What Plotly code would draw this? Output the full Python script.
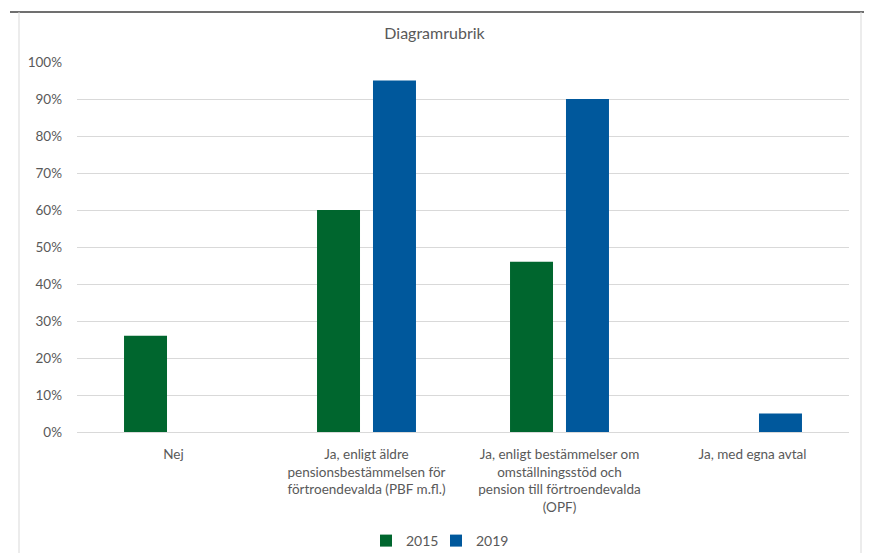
import plotly.graph_objects as go

categories = [
    "Nej",
    "Ja, enligt äldre<br>pensionsbestämmelsen för<br>förtroendevalda (PBF m.fl.)",
    "Ja, enligt bestämmelser om<br>omställningsstöd och<br>pension till förtroendevalda<br>(OPF)",
    "Ja, med egna avtal",
]
values_2015 = [0.26, 0.60, 0.46, None]
values_2019 = [None, 0.95, 0.90, 0.05]
series_names = ["2015", "2019"]
colors = ["#00662E", "#00589C"]
y_ticks = [0, 0.1, 0.2, 0.3, 0.4, 0.5, 0.6, 0.7, 0.8, 0.9, 1.0]

W, H = 869, 553
L, R, T, B = 77, 849, 62, 432

def px(x):
    return (x - L) / (R - L)

def py(y):
    return (B - y) / (B - T)

font_family = "Lato, 'Open Sans', sans-serif"
gray = "#595959"

fig = go.Figure()
legend_ids = ["legend", "legend2"]
legend_x = [366, 436]
for name, vals, col, lid in zip(series_names, [values_2015, values_2019], colors, legend_ids):
    fig.add_trace(go.Bar(x=categories, y=vals, name=name, marker_color=col,
                         marker_line_width=0, legend=lid))

legend_common = dict(orientation="h", xanchor="left", y=py(541), yanchor="middle",
                     font=dict(size=14, color=gray), itemwidth=30,
                     bgcolor="rgba(0,0,0,0)")

fig.update_layout(
    width=W, height=H,
    margin=dict(l=L, r=W - R, t=T, b=H - B, pad=0, autoexpand=False),
    paper_bgcolor="white", plot_bgcolor="white",
    bargap=0.42, bargroupgap=0.232,
    font=dict(family=font_family, color=gray, size=13),
    title=dict(text="Diagramrubrik", x=0.5, xanchor="center",
               y=1 - 33 / H, yanchor="middle",
               font=dict(size=16, color=gray, family=font_family)),
    showlegend=True,
    legend=dict(x=px(legend_x[0]), **legend_common),
    legend2=dict(x=px(legend_x[1]), **legend_common),
    xaxis=dict(showgrid=False, showline=True, linecolor="#D9D9D9", linewidth=1,
               tickfont=dict(size=13.5, color=gray), ticks="", ticklabelstandoff=10,
               tickangle=0, automargin=False),
    yaxis=dict(range=[0, 1], tickvals=y_ticks, tickformat=".0%",
               showgrid=True, gridcolor="#D9D9D9", gridwidth=1,
               zeroline=False, showline=False, automargin=False,
               tickfont=dict(size=13.5, color=gray), ticklabelstandoff=14),
    shapes=[
        dict(type="line", xref="paper", yref="paper", x0=px(10), x1=px(864),
             y0=py(12), y1=py(12), line=dict(color="#404040", width=1.5)),
        dict(type="line", xref="paper", yref="paper", x0=px(19), x1=px(19),
             y0=py(12), y1=py(553), line=dict(color="#D9D9D9", width=1)),
        dict(type="line", xref="paper", yref="paper", x0=px(861), x1=px(861),
             y0=py(12), y1=py(553), line=dict(color="#D9D9D9", width=1)),
    ],
)

fig.write_html("out.html")
